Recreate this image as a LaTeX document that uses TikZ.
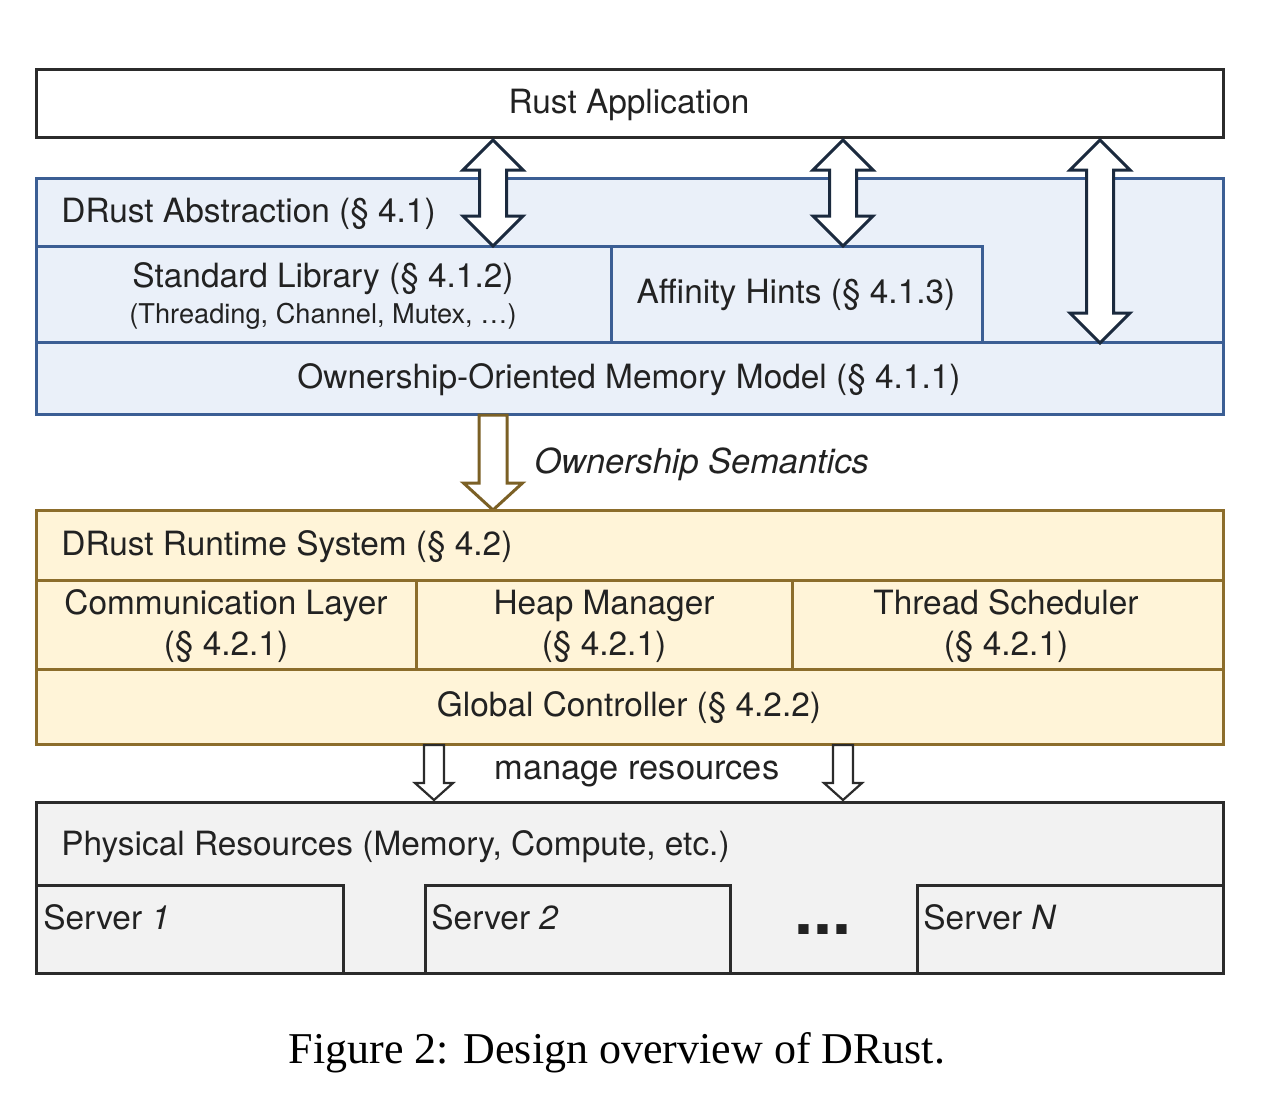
\documentclass[tikz,border=0pt]{standalone}
\usepackage{fontspec}
\setmainfont{TeX Gyre Heros}
\newfontfamily\capfont{Liberation Serif}
\definecolor{txt}{HTML}{222222}
\definecolor{bblue}{HTML}{3B5E94}
\definecolor{fblue}{HTML}{EAF0F9}
\definecolor{byel}{HTML}{8C6D2B}
\definecolor{fyel}{HTML}{FFF4D8}
\definecolor{bgray}{HTML}{2B2B2B}
\definecolor{fgray}{HTML}{F2F2F2}
\definecolor{navy}{HTML}{1B2A3E}
\definecolor{brownarr}{HTML}{7B6025}
\newcommand\BlockDbl[7]{% cx, ytop, ybot, shaft half, head half, head len, color
  \draw[line width=1.5pt,#7,fill=white,line join=miter]
    ({#1-#4},{#2+#6}) -- ({#1-#5},{#2+#6}) -- (#1,#2) -- ({#1+#5},{#2+#6}) -- ({#1+#4},{#2+#6})
    -- ({#1+#4},{#3-#6}) -- ({#1+#5},{#3-#6}) -- (#1,#3) -- ({#1-#5},{#3-#6}) -- ({#1-#4},{#3-#6}) -- cycle;}
\newcommand\BlockDown[8]{% cx, ytop, ybot, shaft half, head half, head len, color, width
  \draw[line width=#8,#7,fill=white,line join=miter]
    ({#1-#4},#2) -- ({#1+#4},#2) -- ({#1+#4},{#3-#6}) -- ({#1+#5},{#3-#6}) -- (#1,#3)
    -- ({#1-#5},{#3-#6}) -- ({#1-#4},{#3-#6}) -- cycle;}
\begin{document}
\begin{tikzpicture}[x=0.5pt,y=-0.5pt,
  txtstyle/.style={text=txt,font=\fontsize{16.7}{19.5}\selectfont,inner sep=0pt},
  bluebox/.style={draw=bblue,fill=fblue,line width=1.5pt},
  yelbox/.style={draw=byel,fill=fyel,line width=1.5pt},
  graybox/.style={draw=bgray,fill=fgray,line width=1.5pt},
  lab/.style={txtstyle,anchor=center},
  llab/.style={txtstyle,anchor=west}]
\useasboundingbox (0,0) rectangle (1268,1110);
\fill[white] (0,0) rectangle (1268,1110);
% Rust application
\draw[draw=bgray,fill=white,line width=1.5pt] (36,69) rectangle (1223,137);
\node[lab] (app) at (629,105) {Rust Application};
% DRust abstraction
\draw[bluebox] (36,178) rectangle (1223,414);
\draw[bluebox] (36,246) rectangle (611,342);
\draw[bluebox] (611,246) rectangle (982,342);
\draw[bluebox] (36,342) rectangle (1223,414);
\node[llab] (abs) at (61,214) {DRust Abstraction (§ 4.1)};
\node[lab] (std) at (323,279) {Standard Library (§ 4.1.2)};
\node[lab,font=\fontsize{13.6}{15}\selectfont] (stdsub) at (323,316) {(Threading, Channel, Mutex, …)};
\node[lab] (aff) at (796,295) {Affinity Hints (§ 4.1.3)};
\node[lab] (own) at (629,380) {Ownership-Oriented Memory Model (§ 4.1.1)};
% double arrows
\BlockDbl{493}{140}{246}{13.5}{30}{30}{navy}
\BlockDbl{843}{140}{246}{13.5}{30}{30}{navy}
\BlockDbl{1100}{140}{343}{13.5}{30}{30}{navy}
% ownership semantics
\BlockDown{493}{415}{510}{14}{29.5}{27}{brownarr}{1.5pt}
\node[llab,font=\fontsize{17.2}{20}\selectfont\itshape] (os) at (534,464) {Ownership Semantics};
% runtime
\draw[yelbox] (36,510) rectangle (1223,744);
\draw[yelbox] (36,580) rectangle (416,669);
\draw[yelbox] (416,580) rectangle (792,669);
\draw[yelbox] (792,580) rectangle (1223,669);
\draw[yelbox] (36,669) rectangle (1223,744);
\node[llab] (rt) at (61,547) {DRust Runtime System (§ 4.2)};
\node[lab,align=center] (comm) at (226,626) {Communication Layer\\[1pt](§ 4.2.1)};
\node[lab,align=center] (heap) at (604,626) {Heap Manager\\[1pt](§ 4.2.1)};
\node[lab,align=center] (sched) at (1006,626) {Thread Scheduler\\[1pt](§ 4.2.1)};
\node[lab] (gc) at (629,708) {Global Controller (§ 4.2.2)};
% manage resources
\BlockDown{434}{745}{800}{10}{19}{17}{bgray}{1.1pt}
\BlockDown{843}{745}{800}{10}{19}{17}{bgray}{1.1pt}
\node[lab,font=\fontsize{17.2}{20}\selectfont] (mr) at (637,774) {manage resources};
% physical
\draw[graybox] (36,802) rectangle (1223,973);
\draw[graybox] (36,885) rectangle (343,973);
\draw[graybox] (425,885) rectangle (730,973);
\draw[graybox] (917,885) rectangle (1223,973);
\node[llab] (phys) at (61,847) {Physical Resources (Memory, Compute, etc.)};
\node[llab] (s1) at (43,917) {Server \textit{1}};
\node[llab] (s2) at (431,917) {Server \textit{2}};
\node[llab] (sn) at (923,917) {Server \textit{N}};
\node[lab,font=\fontsize{34}{36}\selectfont\bfseries] (dots) at (823,930) {...};
% caption
\node[text=black,font=\capfont\fontsize{22}{26}\selectfont,inner sep=0pt] (cap) at (617,1053) {Figure 2: Design overview of DRust.};
\end{tikzpicture}
\end{document}
